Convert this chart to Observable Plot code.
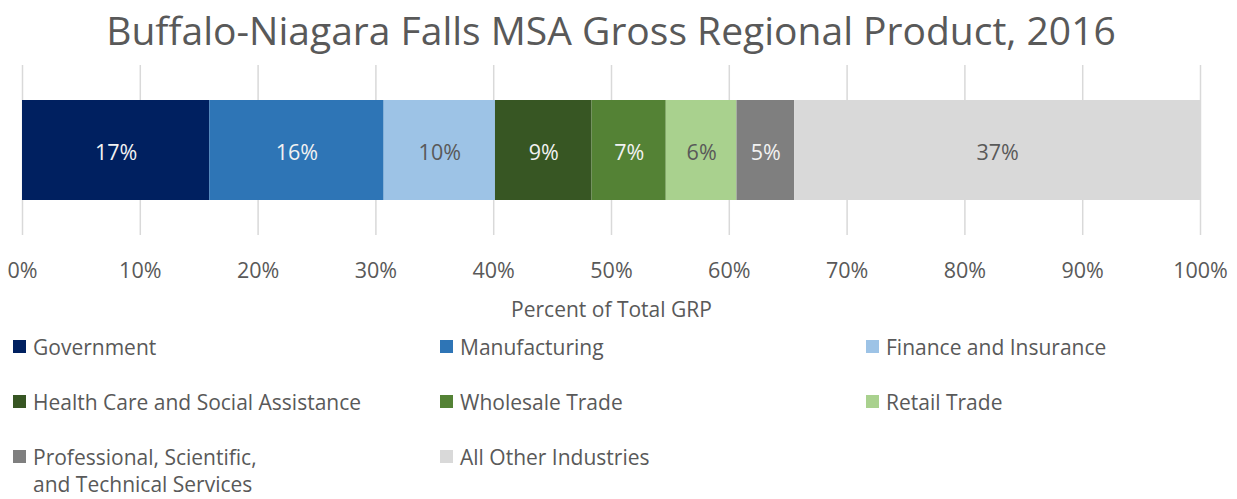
<!DOCTYPE html>
<html>
<head>
<meta charset="utf-8">
<script src="https://cdn.jsdelivr.net/npm/d3@7"></script>
<script src="https://cdn.jsdelivr.net/npm/@observablehq/plot@0.6"></script>
<style>
  html, body { margin: 0; padding: 0; background: #fff; }
  body { font-family: "Open Sans", "Noto Sans", sans-serif; color: #595959; }
  #wrap { position: relative; width: 1237px; height: 499px; overflow: hidden; }
  #title { position: absolute; left: 22px; width: 1178px; top: 0; text-align: center; font-size: 39px; line-height: 60px; color: #595959; white-space: nowrap; }
  #chart { position: absolute; left: 0; top: 60px; }
  .lg { position: absolute; font-size: 21px; line-height: 20px; color: #595959; white-space: nowrap; }
  .sw { position: absolute; width: 13px; height: 13px; }
</style>
</head>
<body>
<div id="wrap">
  <div id="title"></div>
  <div id="chart"></div>
  <div id="legend"></div>
</div>
<script>
const titleText = "Buffalo-Niagara Falls MSA Gross Regional Product, 2016";
const axisLabel = "Percent of Total GRP";
const categories = [
  "Government",
  "Manufacturing",
  "Finance and Insurance",
  "Health Care and Social Assistance",
  "Wholesale Trade",
  "Retail Trade",
  "Professional, Scientific, and Technical Services",
  "All Other Industries"
];
const legendNames = [
  ["Government"],
  ["Manufacturing"],
  ["Finance and Insurance"],
  ["Health Care and Social Assistance"],
  ["Wholesale Trade"],
  ["Retail Trade"],
  ["Professional, Scientific,", "and Technical Services"],
  ["All Other Industries"]
];
// bar widths (share of total GRP, %)
const shares = [15.9, 14.8, 9.45, 8.2, 6.3, 6.0, 4.9, 34.45];
// data labels as printed on the bars
const labels = ["17%", "16%", "10%", "9%", "7%", "6%", "5%", "37%"];
const colors = ["#002060", "#2E75B6", "#9DC3E6", "#375623", "#548235", "#A9D18E", "#7F7F7F", "#D9D9D9"];
const labelColors = ["#f2f2f2", "#f2f2f2", "#595959", "#f2f2f2", "#f2f2f2", "#595959", "#f2f2f2", "#595959"];
const ticks = [0, 10, 20, 30, 40, 50, 60, 70, 80, 90, 100];

document.getElementById("title").textContent = titleText;

const data = categories.map((c, i) => ({
  cat: c, share: shares[i], label: labels[i], color: colors[i], tcolor: labelColors[i], row: "GRP"
}));

const chart = Plot.plot({
  width: 1237,
  height: 265,
  marginLeft: 22,
  marginRight: 37,
  marginTop: 5,
  marginBottom: 90,
  style: { fontFamily: "'Open Sans', 'Noto Sans', sans-serif", color: "#595959", background: "transparent" },
  x: { domain: [0, 100] },
  y: { domain: ["GRP"], padding: 0, axis: null },
  color: { type: "identity" },
  marks: [
    Plot.ruleX(ticks, { stroke: "#d9d9d9", strokeWidth: 1.5 }),
    Plot.barX(data, Plot.stackX({ x: "share", y: "row", fill: "color", insetTop: 35, insetBottom: 35, order: null })),
    Plot.text(data, Plot.stackX({ x: "share", y: "row", text: "label", fill: "tcolor", fontSize: 21.5, dy: 3, order: null })),
    Plot.axisX(ticks, { tickSize: 0, tickPadding: 27, tickFormat: d => d + "%", fontSize: 21.5, label: null }),
    Plot.text([axisLabel], { x: 50, frameAnchor: "bottom", dy: 81, text: d => d, fontSize: 21, fill: "#595959" })
  ]
});
document.getElementById("chart").appendChild(chart);

// legend (HTML, 3 columns)
const legend = document.getElementById("legend");
const colX = [13, 440, 866];
const rowY = [347, 402, 457];
categories.forEach((c, i) => {
  const col = i % 3, row = Math.floor(i / 3);
  const sw = document.createElement("div");
  sw.className = "sw";
  sw.style.left = colX[col] + "px";
  sw.style.top = (rowY[row] - 7) + "px";
  sw.style.background = colors[i];
  legend.appendChild(sw);
  legendNames[i].forEach((line, k) => {
    const t = document.createElement("div");
    t.className = "lg";
    t.style.left = (colX[col] + 20) + "px";
    t.style.top = (rowY[row] + k * 27 - 10) + "px";
    t.textContent = line;
    legend.appendChild(t);
  });
});
</script>
</body>
</html>
